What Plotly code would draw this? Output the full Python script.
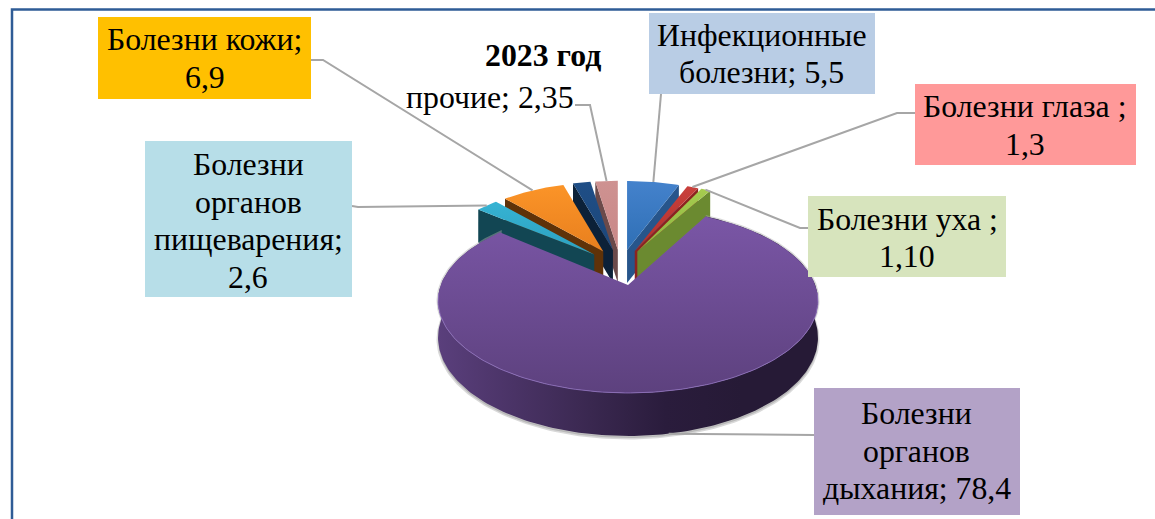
import numpy as np
import plotly.graph_objects as go

# ---- data ----
slice_names = ["Инфекционные болезни", "Болезни глаза", "Болезни уха", "Болезни органов дыхания",
               "Болезни органов пищеварения", "Болезни кожи", "без подписи", "прочие"]
slice_values = [5.5, 1.3, 1.1, 78.4, 2.6, 6.9, 1.85, 2.35]
top_colors = [["#2F6FB5", "#4482CC"], ["#B02F2C", "#C9403C"], ["#8DB33F", "#A6CC4F"], ["#5D417E", "#7A56A6"],
              ["#2CA0BF", "#36B3D3"], ["#E87F1E", "#FB9428"], ["#1C477A", "#1F4E86"], ["#C98887", "#CE9291"]]
wall_colors = ["#27558B", "#8C2320", "#6B8A30", "#5A3F7C", "#124653", "#5F3208", "#0C2138", "#6B4A4A"]
label_lines = [["Инфекционные", "болезни; 5,5"], ["Болезни глаза ;", "1,3"], ["Болезни уха ;", "1,10"],
               ["Болезни", "органов", "дыхания; 78,4"], ["Болезни", "органов", "пищеварения;", "2,6"],
               ["Болезни кожи;", "6,9"], ["прочие; 2,35"]]
label_slices = [0, 1, 2, 3, 4, 5, 7]
label_centers = [(761.5, 54), (1025, 125.5), (907, 238), (916.5, 451), (248, 221), (204.5, 58.5), (490, 97)]
label_boxes = [(649, 13, 875, 94, "#B9CDE5"), (915, 84, 1136, 165, "#FF9999"), (808, 196, 1006, 277, "#D7E4BD"),
               (814, 388, 1020, 515, "#B3A2C7"), (145, 141, 352, 297, "#B7DEE8"), (98, 17, 311, 99, "#FFC000"), None]
leader_knees = [[(661, 94)], [(915, 113), (897, 113)], [(808, 228), (800, 228)], [(814, 435)],
                [(352, 206), (358, 207)], [(311, 60), (323, 60)], [(575, 105), (590, 105)]]
title_text = "2023 год"

# ---- geometry of the drawing ----
W, H = 1155, 519
FONT = "Liberation Serif"
FS = 31.8
LINE_H = 37.5
LEAD = "#A6A6A6"
# exploded front slice: a perspective disc
PX, PY, PR, PK, PP, PH = 628.0, 285.0, 187.2, 89.6, 0.17, 35.7
# exploded back slices
CX, CY, RX, RY, EXPL, DEPTH = 620.6, 266.6, 153.0, 69.0, 0.245, 33.0

edges = np.concatenate([[0], np.cumsum(slice_values)]) * 3.6
spans = [(edges[i], edges[i + 1]) for i in range(len(slice_values))]
BIG = int(np.argmax(slice_values))


def persp(theta, drop=0.0):
    t = np.radians(theta)
    u, v = np.sin(t), np.cos(t)
    s = 1 / (1 + PP * v)
    return PX + PR * u * s, PY - PK * v * s + drop * s


def back(theta, mid, drop=0.0):
    t, m = np.radians(theta), np.radians(mid)
    ax = CX + EXPL * RX * np.sin(m)
    ay = CY - EXPL * RY * np.cos(m)
    return ax + RX * np.sin(t), ay - RY * np.cos(t) + drop


def apex(mid, drop=0.0):
    m = np.radians(mid)
    return CX + EXPL * RX * np.sin(m), CY - EXPL * RY * np.cos(m) + drop


fig = go.Figure()


def poly(x, y, grad_type=None, colors=None, color=None, line=None):
    kw = dict(x=list(x), y=list(y), mode="lines", fill="toself", hoverinfo="skip", showlegend=False,
              line=dict(width=0, color="rgba(0,0,0,0)") if line is None else line)
    if grad_type:
        kw["fillgradient"] = dict(type=grad_type, colorscale=[[i / (len(colors) - 1), c] for i, c in enumerate(colors)])
    else:
        kw["fillcolor"] = color
    fig.add_trace(go.Scatter(**kw))


def back_slice(i):
    a, b = spans[i]
    mid = (a + b) / 2
    th = np.linspace(a, b, 30)
    edge = a if mid > 180 else b
    ax0, ay0 = apex(mid)
    ax1, ay1 = apex(mid, DEPTH)
    rx0, ry0 = back(edge, mid)
    rx1, ry1 = back(edge, mid, DEPTH)
    poly([ax0, rx0, rx1, ax1, ax0], [ay0, ry0, ry1, ay1, ay0], color=wall_colors[i])
    rx, ry = back(th, mid)
    poly(np.r_[ax0, rx, ax0], np.r_[ay0, ry, ay0], "vertical", top_colors[i])


# back slices, painted far-to-near on each side
for i in [7, 6, 5, 4, 0, 1, 2]:
    back_slice(i)

# front slice
a, b = spans[BIG]
th = np.linspace(a, b, 240)
tx, ty = persp(th)
bx, by = persp(th, PH)
poly(np.r_[bx, tx[::-1]], np.r_[by + 2, ty[::-1]], color="rgba(150,150,150,0.55)",
     line=dict(width=3, color="rgba(170,170,170,0.45)"))
poly(np.r_[bx, tx[::-1]], np.r_[by, ty[::-1]], "horizontal",
     ["#5A3F7C", "#4A3366", "#3A2850", "#2A1C3C", "#261A36", "#261A36"])
poly(np.r_[PX, tx, PX], np.r_[PY, ty, PY], "vertical", top_colors[BIG])
rim = np.linspace(95, 265, 120)
rx_, ry_ = persp(rim)
fig.add_trace(go.Scatter(x=rx_, y=ry_, mode="lines", line=dict(width=1, color="rgba(140,110,185,0.9)"),
                         hoverinfo="skip", showlegend=False))

# leader lines, each ending at its slice's rim
for n, (i, knees) in enumerate(zip(label_slices, leader_knees)):
    a, b = spans[i]
    mid = (a + b) / 2
    ex, ey = persp(mid, PH) if i == BIG else back(mid, mid)
    xs = [p[0] for p in knees] + [ex]
    ys = [p[1] for p in knees] + [ey]
    fig.add_trace(go.Scatter(x=xs, y=ys, mode="lines", line=dict(color=LEAD, width=2),
                             hoverinfo="skip", showlegend=False))

shapes = [dict(type="rect", xref="x", yref="y", x0=12, y0=9.5, x1=W + 40, y1=H + 40,
               line=dict(color="#2F5C96", width=2.5), fillcolor="rgba(0,0,0,0)", layer="below")]
annotations = []
for box, lines, (cx, cy) in zip(label_boxes, label_lines, label_centers):
    if box:
        shapes.append(dict(type="rect", xref="x", yref="y", x0=box[0], y0=box[1], x1=box[2], y1=box[3],
                           line=dict(width=0), fillcolor=box[4], layer="above"))
    for k, t in enumerate(lines):
        annotations.append(dict(x=cx, y=cy + (k - (len(lines) - 1) / 2) * LINE_H, text=t, xref="x", yref="y",
                                showarrow=False, xanchor="center", yanchor="middle",
                                font=dict(family=FONT, size=FS, color="#000000")))
annotations.append(dict(x=543, y=55, text="<b>%s</b>" % title_text, xref="x", yref="y", showarrow=False,
                        xanchor="center", yanchor="middle", font=dict(family=FONT, size=FS, color="#000000")))

fig.update_layout(width=W, height=H, margin=dict(l=0, r=0, t=0, b=0), autosize=False,
                  paper_bgcolor="#FFFFFF", plot_bgcolor="#FFFFFF", shapes=shapes, annotations=annotations,
                  xaxis=dict(range=[0, W], visible=False, fixedrange=True),
                  yaxis=dict(range=[H, 0], visible=False, fixedrange=True))
fig.write_html("out.html", config=dict(displayModeBar=False),
               post_script="document.body.style.margin='0';")
